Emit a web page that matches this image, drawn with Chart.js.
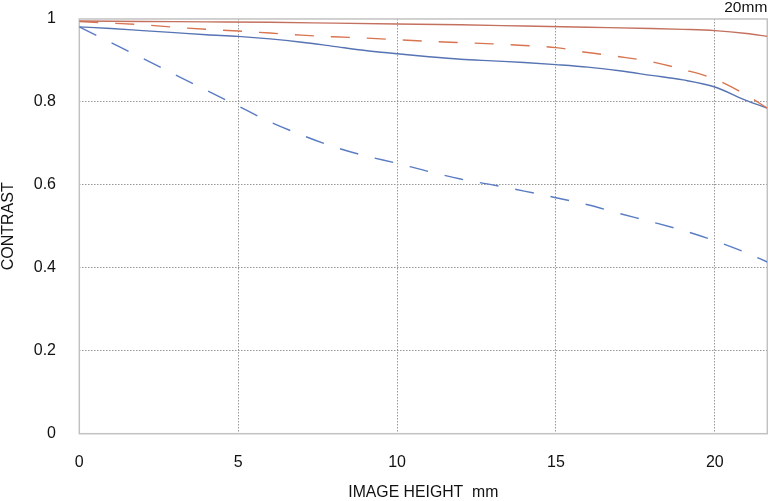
<!DOCTYPE html>
<html>
<head>
<meta charset="utf-8">
<script src="https://cdn.jsdelivr.net/npm/chart.js@4/dist/chart.umd.min.js"></script>
<style>
  html, body { margin: 0; padding: 0; background: #ffffff; }
  #wrap { width: 768px; height: 501px; }
</style>
</head>
<body>
<div id="wrap"><canvas id="c" width="768" height="501"></canvas></div>
<script>
// ---- data ----
const xTicks = [0, 5, 10, 15, 20];
const xTickLabels = ['0', '5', '10', '15', '20'];
const yTicks = [0, 0.2, 0.4, 0.6, 0.8, 1];
const yTickLabels = ['0', '0.2', '0.4', '0.6', '0.8', '1'];

const redSolidX = [0, 2, 4, 6, 8, 10, 12, 14, 16, 18, 19, 20, 21, 21.65];
const redSolidY = [0.995, 0.994, 0.993, 0.992, 0.990, 0.988, 0.986, 0.983, 0.980, 0.977, 0.975, 0.972, 0.965, 0.958];

const redDashX = [0, 1, 2, 3, 4, 5, 6, 7, 8, 9, 10, 11, 12, 13, 14, 15, 16, 17, 18, 19, 20, 21, 21.65];
const redDashY = [0.994, 0.990, 0.986, 0.980, 0.975, 0.971, 0.966, 0.961, 0.957, 0.954, 0.950, 0.946, 0.943, 0.940, 0.936, 0.931, 0.919, 0.909, 0.897, 0.878, 0.855, 0.816, 0.785];

const blueSolidX = [0, 1, 2, 3, 4, 5, 6, 7, 8, 9, 10, 11, 12, 13, 14, 15, 16, 17, 18, 19, 20, 21, 21.65];
const blueSolidY = [0.981, 0.977, 0.972, 0.967, 0.962, 0.958, 0.952, 0.944, 0.934, 0.924, 0.916, 0.909, 0.903, 0.899, 0.895, 0.890, 0.884, 0.875, 0.864, 0.853, 0.836, 0.803, 0.785];

const blueDashX = [0, 1, 2, 3, 4, 5, 6, 7, 8, 9, 10, 11, 12, 13, 14, 15, 16, 17, 18, 19, 20, 21, 21.65];
const blueDashY = [0.981, 0.943, 0.905, 0.866, 0.828, 0.790, 0.752, 0.720, 0.692, 0.670, 0.652, 0.632, 0.614, 0.600, 0.585, 0.569, 0.552, 0.531, 0.511, 0.490, 0.465, 0.436, 0.414];

const X_MAX = 21.65;
const FONT = "'Liberation Sans', Arial, Helvetica, sans-serif";

function pts(xs, ys) { return xs.map((x, i) => ({ x: x, y: ys[i] })); }

const framePlugin = {
  id: 'frame',
  beforeDatasetsDraw(chart) {
    const a = chart.chartArea, ctx = chart.ctx;
    ctx.save();
    ctx.strokeStyle = '#c2c2c2';
    ctx.lineWidth = 1.5;
    ctx.strokeRect(a.left, a.top, a.right - a.left, a.bottom - a.top);
    ctx.restore();
  }
};

function lineDs(label, xs, ys, color, dashed) {
  return {
    label: label,
    data: pts(xs, ys),
    borderColor: color,
    backgroundColor: color,
    borderWidth: 1.4,
    borderDash: dashed ? [19, 17] : [],
    pointRadius: 0,
    fill: false,
    cubicInterpolationMode: 'monotone'
  };
}

new Chart(document.getElementById('c'), {
  type: 'line',
  data: {
    datasets: [
      lineDs('S10', redSolidX, redSolidY, '#c4705e', false),
      lineDs('M10', redDashX, redDashY, '#d8744f', true),
      lineDs('S30', blueSolidX, blueSolidY, '#5673b3', false),
      lineDs('M30', blueDashX, blueDashY, '#5a7cc4', true)
    ]
  },
  options: {
    responsive: false,
    animation: false,
    layout: { padding: { top: 0, right: 0.7, left: 0, bottom: 0 } },
    plugins: {
      legend: { display: false },
      tooltip: { enabled: false },
      title: {
        display: true,
        text: '20mm',
        align: 'end',
        color: '#111',
        font: { family: FONT, size: 15.5, weight: 'normal', lineHeight: 0.94 },
        padding: { top: 0.5, bottom: 3.9 }
      }
    },
    scales: {
      x: {
        type: 'linear',
        min: 0,
        max: X_MAX,
        afterBuildTicks: s => { s.ticks = xTicks.map(v => ({ value: v })); },
        afterFit: s => { s.height = 67.3; s.paddingLeft = 0; s.paddingRight = 0; },
        ticks: {
          autoSkip: false,
          maxRotation: 0,
          padding: 19.3,
          color: '#111',
          font: { family: FONT, size: 16 },
          callback: (v, i) => xTickLabels[i]
        },
        grid: {
          drawTicks: false,
          lineWidth: 1,
          color: c => (c.tick && (c.tick.value === 0)) ? 'rgba(0,0,0,0)' : '#969696'
        },
        border: { display: false, dash: [1.5, 1.5] },
        title: {
          display: true,
          text: 'IMAGE HEIGHT  mm',
          color: '#111',
          font: { family: FONT, size: 15.8, lineHeight: 1 },
          padding: { top: 0, bottom: 0.5 }
        }
      },
      y: {
        type: 'linear',
        min: 0,
        max: 1,
        afterBuildTicks: s => { s.ticks = yTicks.map(v => ({ value: v })); },
        afterFit: s => { s.width = 79.3; s.paddingTop = 0; s.paddingBottom = 0; },
        ticks: {
          padding: 23.3,
          color: '#111',
          font: { family: FONT, size: 16 },
          callback: (v, i) => yTickLabels[i]
        },
        grid: {
          drawTicks: false,
          lineWidth: 1,
          color: c => (c.tick && (c.tick.value === 0 || c.tick.value === 1)) ? 'rgba(0,0,0,0)' : '#969696'
        },
        border: { display: false, dash: [1.5, 1.5] },
        title: {
          display: true,
          text: 'CONTRAST',
          color: '#111',
          font: { family: FONT, size: 16, lineHeight: 1 },
          padding: { top: 1, bottom: 0 }
        }
      }
    }
  },
  plugins: [framePlugin]
});
</script>
</body>
</html>
